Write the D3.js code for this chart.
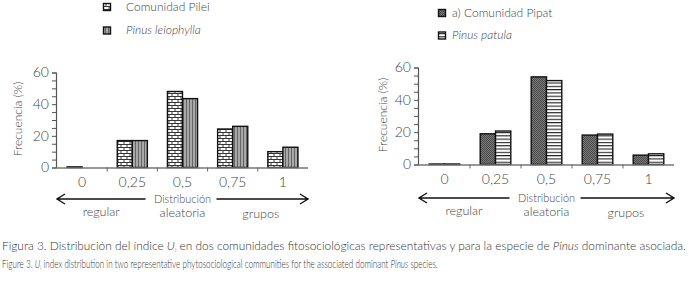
<!DOCTYPE html>
<html>
<head>
<meta charset="utf-8">
<script src="https://cdn.jsdelivr.net/npm/d3@7"></script>
<style>
  body { margin: 0; background: #fff; }
  svg { display: block; font-family: Lato, "Open Sans", sans-serif; }
</style>
</head>
<body>
<div id="chart"></div>
<script>
// Valeurs (%)
const categories = ["0", "0,25", "0,5", "0,75", "1"];
const pileiValues = [0.4, 17, 48, 24.3, 10];
const leiophyllaValues = [0, 17, 43.5, 26, 12.8];
const pipatValues = [0.3, 19, 54.2, 18.2, 5.8];
const patulaValues = [0.3, 20.7, 51.9, 18.8, 6.6];
const yTicks = [0, 5, 10, 15, 20, 25, 30, 35, 40, 45, 50, 55, 60];

const width = 689, height = 283;
const svg = d3.select("#chart").append("svg")
    .attr("width", width)
    .attr("height", height);

// Motifs de remplissage
const defs = svg.append("defs");

const brick = defs.append("pattern").attr("id", "brick")
    .attr("patternUnits", "userSpaceOnUse").attr("width", 6).attr("height", 6);
brick.append("rect").attr("width", 6).attr("height", 6).attr("fill", "#fff");
brick.append("path")
    .attr("d", "M0,0.5H6M0,3.5H6M1,0.5V3.5M4,3.5V6.5")
    .attr("stroke", "#222").attr("stroke-width", 0.9).attr("fill", "none");

const vstripe = defs.append("pattern").attr("id", "vstripe")
    .attr("patternUnits", "userSpaceOnUse").attr("width", 3).attr("height", 3);
vstripe.append("rect").attr("width", 3).attr("height", 3).attr("fill", "#a8a8a8");
vstripe.append("rect").attr("width", 1).attr("height", 3).attr("fill", "#666");

const stipple = defs.append("pattern").attr("id", "stipple")
    .attr("patternUnits", "userSpaceOnUse").attr("width", 2).attr("height", 2);
stipple.append("rect").attr("width", 2).attr("height", 2).attr("fill", "#7a7a7a");
stipple.append("rect").attr("width", 1).attr("height", 1).attr("fill", "#4a4a4a");
stipple.append("rect").attr("x", 1).attr("y", 1).attr("width", 1).attr("height", 1).attr("fill", "#4a4a4a");

const hstripe = defs.append("pattern").attr("id", "hstripe")
    .attr("patternUnits", "userSpaceOnUse").attr("width", 3).attr("height", 3.3);
hstripe.append("rect").attr("width", 3).attr("height", 3.3).attr("fill", "#fff");
hstripe.append("rect").attr("width", 3).attr("height", 1.1).attr("fill", "#222");

function drawPanel(p) {
    const g = svg.append("g");

    const x = d3.scaleBand()
        .domain(categories)
        .range([p.x0, p.x1]);

    const y = d3.scaleLinear()
        .domain([0, 60])
        .range([p.yBase, p.yTop]);

    const groupW = x.bandwidth() * 0.6;
    const xs = d3.scaleBand().domain([0, 1]).range([0, groupW]);
    const series = [p.values1, p.values2];
    const fills = [p.fill1, p.fill2];

    // Barres
    series.forEach((vals, s) => {
        g.append("g")
            .selectAll("rect")
            .data(vals)
            .join("rect")
            .attr("x", (d, i) => x(categories[i]) + (x.bandwidth() - groupW) / 2 + xs(s))
            .attr("y", d => y(d))
            .attr("width", xs.bandwidth())
            .attr("height", d => y(0) - y(d))
            .attr("fill", `url(#${fills[s]})`)
            .attr("stroke", "#111")
            .attr("stroke-width", 1.4);
    });

    // Axe Y
    const yAxis = g.append("g")
        .attr("transform", `translate(${p.x0 - 1},0)`)
        .call(d3.axisLeft(y).tickValues(yTicks).tickSize(4)
            .tickFormat(d => d % 20 === 0 ? d : ""));
    yAxis.select(".domain").attr("stroke", "#555").attr("stroke-width", 1.2);
    yAxis.selectAll(".tick line").attr("stroke", "#555");
    yAxis.selectAll(".tick text")
        .attr("x", -7)
        .style("font-size", "14px")
        .style("font-family", "Lato, sans-serif")
        .style("font-weight", 300)
        .attr("fill", "#444");

    // Axe X : ligne + graduations entre les classes
    g.append("line")
        .attr("x1", p.x0 - 1).attr("x2", p.x1)
        .attr("y1", y(0) + 0.5).attr("y2", y(0) + 0.5)
        .attr("stroke", "#777").attr("stroke-width", 1.4);
    g.append("g").selectAll("line")
        .data(categories.slice(1))
        .join("line")
        .attr("x1", d => x(d)).attr("x2", d => x(d))
        .attr("y1", y(0)).attr("y2", y(0) + 4)
        .attr("stroke", "#666");

    g.append("g").selectAll("text")
        .data(categories)
        .join("text")
        .attr("x", d => x(d) + x.bandwidth() / 2)
        .attr("y", p.labelY)
        .attr("text-anchor", "middle")
        .style("font-size", "14px")
        .style("font-weight", 300)
        .attr("fill", "#444")
        .text(d => d);

    // Titre de l'axe Y
    g.append("text")
        .attr("transform", `translate(${p.yLabelX},${p.yLabelY}) rotate(-90)`)
        .attr("text-anchor", "middle")
        .style("font-size", "12px")
        .style("font-weight", 300)
        .attr("fill", "#444")
        .text("Frecuencia (%)");

    // Flèches "Distribución"
    const mid = x("0,5") + x.bandwidth() / 2;
    const ay = p.arrowY;
    g.append("path")
        .attr("d", `M${p.x0},${ay}H${mid - 37}M${mid + 34},${ay}H${p.x1}` +
            `M${p.x0 + 8},${ay - 5}L${p.x0},${ay}L${p.x0 + 8},${ay + 5}` +
            `M${p.x1 - 8},${ay - 5}L${p.x1},${ay}L${p.x1 - 8},${ay + 5}`)
        .attr("fill", "none")
        .attr("stroke", "#111")
        .attr("stroke-width", 1.4);

    const labels = [
        { t: "Distribución", x: mid, y: ay + 4, w: 57 },
        { t: "aleatoria", x: mid, y: ay + 18 },
        { t: "regular", x: x("0,25") - 6, y: ay + 17 },
        { t: "grupos", x: x("1") + 3, y: ay + 19 }
    ];
    g.append("g").selectAll("text")
        .data(labels)
        .join("text")
        .attr("x", d => d.x)
        .attr("y", d => d.y)
        .attr("text-anchor", "middle")
        .style("font-size", "12.5px")
        .style("font-weight", 300)
        .attr("fill", "#444")
        .attr("textLength", d => d.w || null)
        .attr("lengthAdjust", "spacingAndGlyphs")
        .text(d => d.t);

    // Légende
    const leg = g.append("g");
    p.legend.forEach((l, i) => {
        leg.append("rect")
            .attr("x", p.legX).attr("y", p.legY[i])
            .attr("width", 7).attr("height", 7)
            .attr("fill", `url(#${fills[i]})`)
            .attr("stroke", "#111").attr("stroke-width", 1.4);
        leg.append("text")
            .attr("x", p.legTextX)
            .attr("y", p.legY[i] + 7)
            .style("font-size", "12px")
            .style("font-weight", 300)
            .style("font-style", l.italic ? "italic" : "normal")
            .attr("fill", "#444")
            .text(l.text);
    });
}

drawPanel({
    x0: 57, x1: 308, yBase: 167.5, yTop: 72.5,
    values1: pileiValues, values2: leiophyllaValues,
    fill1: "brick", fill2: "vstripe",
    labelY: 187, arrowY: 199,
    yLabelX: 22, yLabelY: 119,
    legX: 103.5, legY: [3.5, 27], legTextX: 126,
    legend: [{ text: "Comunidad Pilei" }, { text: "Pinus leiophylla", italic: true }]
});

drawPanel({
    x0: 419, x1: 674, yBase: 164.5, yTop: 67.5,
    values1: pipatValues, values2: patulaValues,
    fill1: "stipple", fill2: "hstripe",
    labelY: 184, arrowY: 198,
    yLabelX: 387, yLabelY: 115,
    legX: 438.5, legY: [9.5, 32], legTextX: 452,
    legend: [{ text: "a) Comunidad Pipat" }, { text: "Pinus patula", italic: true }]
});

// Légende de la figure : chaque ligne est mise à la largeur voulue
// par une mise à l'échelle horizontale (la hauteur reste la même)
const captions = [
    { y: 250, w: 685, parts: [
        { t: "Figura 3. Distribución del índice " }, { t: "U", i: true }, { t: "i", sub: true },
        { t: " en dos comunidades fitosociológicas representativas y para la especie de " },
        { t: "Pinus", i: true }, { t: " dominante asociada." }] },
    { y: 268, w: 436, parts: [
        { t: "Figure 3. " }, { t: "U", i: true }, { t: "i", sub: true },
        { t: " index distribution in two representative phytosociological communities for the associated dominant " },
        { t: "Pinus", i: true }, { t: " species." }] }
];
captions.forEach(c => {
    const g = svg.append("g");
    const t = g.append("text")
        .attr("x", 0).attr("y", 0)
        .style("font-size", "11px")
        .style("font-weight", 300)
        .attr("fill", "#333");
    c.parts.forEach((pt, k) => {
        const s = t.append("tspan").text(pt.t);
        if (pt.i) s.style("font-style", "italic");
        if (pt.sub) s.attr("dy", 2).style("font-size", "6px");
        else if (k > 0 && c.parts[k - 1].sub) s.attr("dy", -2);
    });
    const natural = t.node().getComputedTextLength();
    g.attr("transform", `translate(2,${c.y}) scale(${c.w / natural},1)`);
});
</script>
</body>
</html>
